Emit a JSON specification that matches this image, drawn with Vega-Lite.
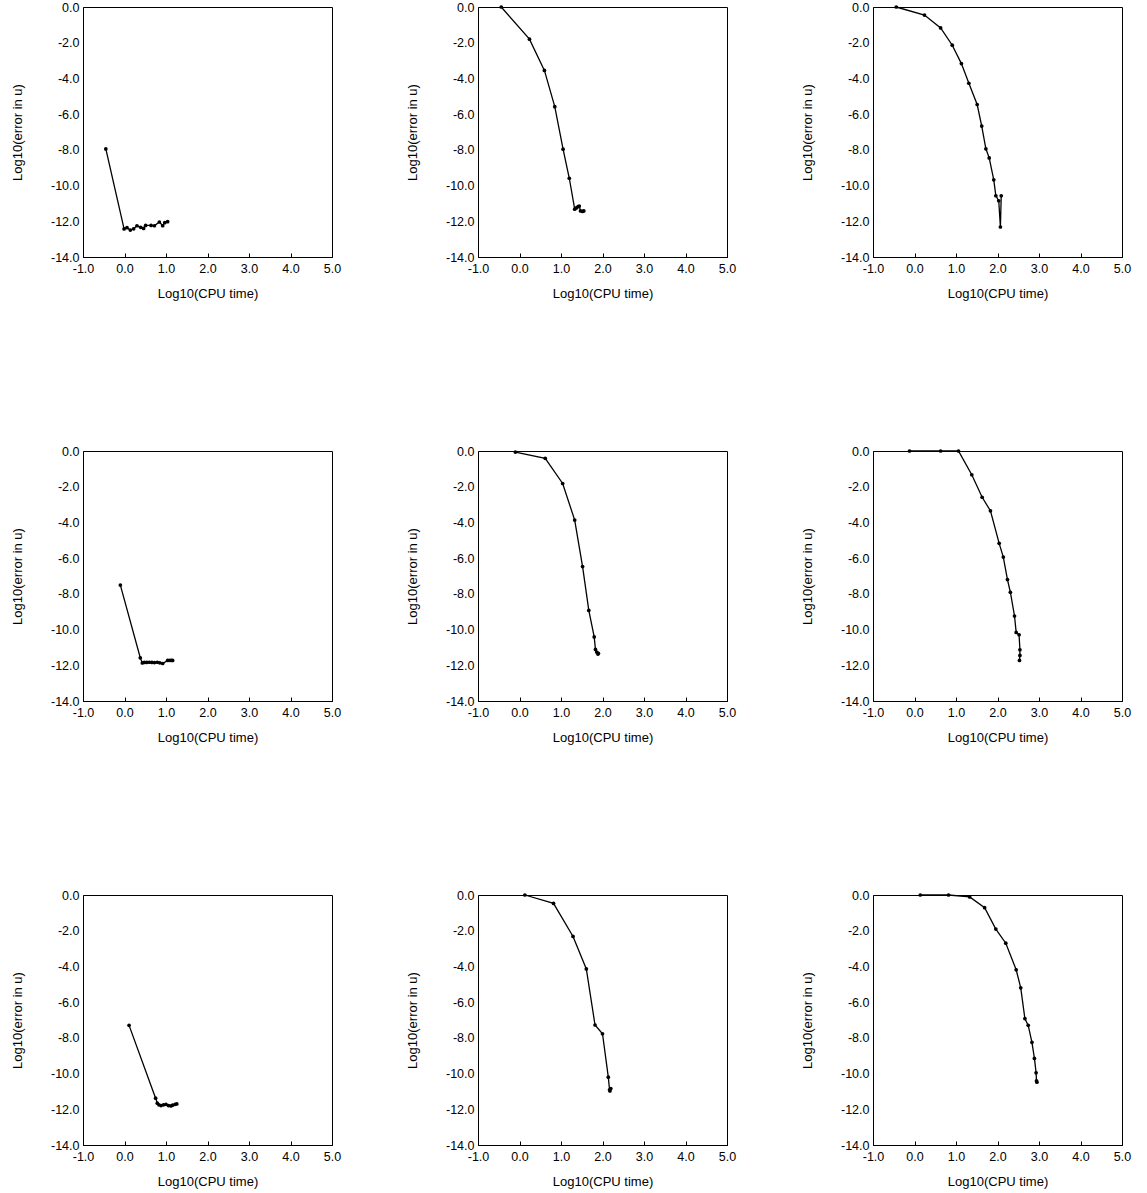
{
  "$schema": "https://vega.github.io/schema/vega-lite/v6.json",
  "padding": {"left": 11, "top": 0, "right": 5, "bottom": 5},
  "background": "white",
  "datasets": {
    "grid": [
      {"panel": 1, "r": 1, "c": 1}, {"panel": 2, "r": 1, "c": 2}, {"panel": 3, "r": 1, "c": 3},
      {"panel": 4, "r": 2, "c": 1}, {"panel": 5, "r": 2, "c": 2}, {"panel": 6, "r": 2, "c": 3},
      {"panel": 7, "r": 3, "c": 1}, {"panel": 8, "r": 3, "c": 2}, {"panel": 9, "r": 3, "c": 3}
    ],
    "pts": [
    {"panel": 1, "i": 0, "x": -0.45, "y": -7.95},
    {"panel": 1, "i": 1, "x": -0.01, "y": -12.43},
    {"panel": 1, "i": 2, "x": 0.06, "y": -12.36},
    {"panel": 1, "i": 3, "x": 0.14, "y": -12.49},
    {"panel": 1, "i": 4, "x": 0.22, "y": -12.42},
    {"panel": 1, "i": 5, "x": 0.30, "y": -12.25},
    {"panel": 1, "i": 6, "x": 0.39, "y": -12.34},
    {"panel": 1, "i": 7, "x": 0.46, "y": -12.40},
    {"panel": 1, "i": 8, "x": 0.51, "y": -12.23},
    {"panel": 1, "i": 9, "x": 0.64, "y": -12.23},
    {"panel": 1, "i": 10, "x": 0.72, "y": -12.25},
    {"panel": 1, "i": 11, "x": 0.84, "y": -12.04},
    {"panel": 1, "i": 12, "x": 0.92, "y": -12.25},
    {"panel": 1, "i": 13, "x": 0.97, "y": -12.08},
    {"panel": 1, "i": 14, "x": 1.04, "y": -12.02},

    {"panel": 2, "i": 0, "x": -0.44, "y": 0.0},
    {"panel": 2, "i": 1, "x": 0.24, "y": -1.80},
    {"panel": 2, "i": 2, "x": 0.60, "y": -3.55},
    {"panel": 2, "i": 3, "x": 0.85, "y": -5.58},
    {"panel": 2, "i": 4, "x": 1.05, "y": -7.96},
    {"panel": 2, "i": 5, "x": 1.20, "y": -9.59},
    {"panel": 2, "i": 6, "x": 1.33, "y": -11.32},
    {"panel": 2, "i": 7, "x": 1.37, "y": -11.25},
    {"panel": 2, "i": 8, "x": 1.41, "y": -11.18},
    {"panel": 2, "i": 9, "x": 1.44, "y": -11.15},
    {"panel": 2, "i": 10, "x": 1.47, "y": -11.42},
    {"panel": 2, "i": 11, "x": 1.52, "y": -11.45},
    {"panel": 2, "i": 12, "x": 1.55, "y": -11.42},

    {"panel": 3, "i": 0, "x": -0.44, "y": 0.0},
    {"panel": 3, "i": 1, "x": 0.24, "y": -0.45},
    {"panel": 3, "i": 2, "x": 0.63, "y": -1.17},
    {"panel": 3, "i": 3, "x": 0.91, "y": -2.14},
    {"panel": 3, "i": 4, "x": 1.13, "y": -3.17},
    {"panel": 3, "i": 5, "x": 1.31, "y": -4.27},
    {"panel": 3, "i": 6, "x": 1.51, "y": -5.46},
    {"panel": 3, "i": 7, "x": 1.62, "y": -6.67},
    {"panel": 3, "i": 8, "x": 1.72, "y": -7.94},
    {"panel": 3, "i": 9, "x": 1.80, "y": -8.45},
    {"panel": 3, "i": 10, "x": 1.91, "y": -9.68},
    {"panel": 3, "i": 11, "x": 1.96, "y": -10.57},
    {"panel": 3, "i": 12, "x": 2.03, "y": -10.85},
    {"panel": 3, "i": 13, "x": 2.07, "y": -12.32},
    {"panel": 3, "i": 14, "x": 2.09, "y": -10.57},

    {"panel": 4, "i": 0, "x": -0.10, "y": -7.51},
    {"panel": 4, "i": 1, "x": 0.38, "y": -11.58},
    {"panel": 4, "i": 2, "x": 0.43, "y": -11.87},
    {"panel": 4, "i": 3, "x": 0.48, "y": -11.84},
    {"panel": 4, "i": 4, "x": 0.54, "y": -11.84},
    {"panel": 4, "i": 5, "x": 0.60, "y": -11.83},
    {"panel": 4, "i": 6, "x": 0.66, "y": -11.84},
    {"panel": 4, "i": 7, "x": 0.72, "y": -11.85},
    {"panel": 4, "i": 8, "x": 0.79, "y": -11.83},
    {"panel": 4, "i": 9, "x": 0.85, "y": -11.86},
    {"panel": 4, "i": 10, "x": 0.92, "y": -11.90},
    {"panel": 4, "i": 11, "x": 1.04, "y": -11.73},
    {"panel": 4, "i": 12, "x": 1.09, "y": -11.72},
    {"panel": 4, "i": 13, "x": 1.13, "y": -11.73},
    {"panel": 4, "i": 14, "x": 1.16, "y": -11.73},

    {"panel": 5, "i": 0, "x": -0.10, "y": -0.06},
    {"panel": 5, "i": 1, "x": 0.62, "y": -0.41},
    {"panel": 5, "i": 2, "x": 1.04, "y": -1.82},
    {"panel": 5, "i": 3, "x": 1.33, "y": -3.87},
    {"panel": 5, "i": 4, "x": 1.52, "y": -6.47},
    {"panel": 5, "i": 5, "x": 1.67, "y": -8.93},
    {"panel": 5, "i": 6, "x": 1.80, "y": -10.41},
    {"panel": 5, "i": 7, "x": 1.83, "y": -11.11},
    {"panel": 5, "i": 8, "x": 1.86, "y": -11.26},
    {"panel": 5, "i": 9, "x": 1.89, "y": -11.37},
    {"panel": 5, "i": 10, "x": 1.90, "y": -11.33},

    {"panel": 6, "i": 0, "x": -0.12, "y": 0.0},
    {"panel": 6, "i": 1, "x": 0.63, "y": 0.0},
    {"panel": 6, "i": 2, "x": 1.06, "y": 0.0},
    {"panel": 6, "i": 3, "x": 1.38, "y": -1.33},
    {"panel": 6, "i": 4, "x": 1.63, "y": -2.59},
    {"panel": 6, "i": 5, "x": 1.83, "y": -3.35},
    {"panel": 6, "i": 6, "x": 2.04, "y": -5.17},
    {"panel": 6, "i": 7, "x": 2.14, "y": -5.94},
    {"panel": 6, "i": 8, "x": 2.24, "y": -7.20},
    {"panel": 6, "i": 9, "x": 2.31, "y": -7.91},
    {"panel": 6, "i": 10, "x": 2.41, "y": -9.24},
    {"panel": 6, "i": 11, "x": 2.45, "y": -10.16},
    {"panel": 6, "i": 12, "x": 2.52, "y": -10.29},
    {"panel": 6, "i": 13, "x": 2.54, "y": -11.13},
    {"panel": 6, "i": 14, "x": 2.54, "y": -11.45},
    {"panel": 6, "i": 15, "x": 2.53, "y": -11.73},

    {"panel": 7, "i": 0, "x": 0.11, "y": -7.30},
    {"panel": 7, "i": 1, "x": 0.75, "y": -11.38},
    {"panel": 7, "i": 2, "x": 0.79, "y": -11.66},
    {"panel": 7, "i": 3, "x": 0.83, "y": -11.75},
    {"panel": 7, "i": 4, "x": 0.88, "y": -11.79},
    {"panel": 7, "i": 5, "x": 0.94, "y": -11.75},
    {"panel": 7, "i": 6, "x": 1.00, "y": -11.72},
    {"panel": 7, "i": 7, "x": 1.06, "y": -11.79},
    {"panel": 7, "i": 8, "x": 1.12, "y": -11.81},
    {"panel": 7, "i": 9, "x": 1.16, "y": -11.77},
    {"panel": 7, "i": 10, "x": 1.22, "y": -11.72},
    {"panel": 7, "i": 11, "x": 1.26, "y": -11.70},

    {"panel": 8, "i": 0, "x": 0.13, "y": 0.0},
    {"panel": 8, "i": 1, "x": 0.82, "y": -0.47},
    {"panel": 8, "i": 2, "x": 1.29, "y": -2.32},
    {"panel": 8, "i": 3, "x": 1.61, "y": -4.14},
    {"panel": 8, "i": 4, "x": 1.82, "y": -7.28},
    {"panel": 8, "i": 5, "x": 2.00, "y": -7.77},
    {"panel": 8, "i": 6, "x": 2.14, "y": -10.20},
    {"panel": 8, "i": 7, "x": 2.17, "y": -10.91},
    {"panel": 8, "i": 8, "x": 2.18, "y": -10.97},
    {"panel": 8, "i": 9, "x": 2.20, "y": -10.84},

    {"panel": 9, "i": 0, "x": 0.14, "y": 0.0},
    {"panel": 9, "i": 1, "x": 0.82, "y": 0.0},
    {"panel": 9, "i": 2, "x": 1.33, "y": -0.11},
    {"panel": 9, "i": 3, "x": 1.69, "y": -0.71},
    {"panel": 9, "i": 4, "x": 1.96, "y": -1.91},
    {"panel": 9, "i": 5, "x": 2.20, "y": -2.70},
    {"panel": 9, "i": 6, "x": 2.45, "y": -4.19},
    {"panel": 9, "i": 7, "x": 2.56, "y": -5.20},
    {"panel": 9, "i": 8, "x": 2.66, "y": -6.92},
    {"panel": 9, "i": 9, "x": 2.74, "y": -7.30},
    {"panel": 9, "i": 10, "x": 2.83, "y": -8.25},
    {"panel": 9, "i": 11, "x": 2.89, "y": -9.15},
    {"panel": 9, "i": 12, "x": 2.93, "y": -9.96},
    {"panel": 9, "i": 13, "x": 2.94, "y": -10.41},
    {"panel": 9, "i": 14, "x": 2.95, "y": -10.48}
    ]
  },
  "data": {"name": "pts"},
  "transform": [
    {"lookup": "panel", "from": {"data": {"name": "grid"}, "key": "panel", "fields": ["r", "c"]}}
  ],
  "facet": {
    "row": {"field": "r", "type": "ordinal", "title": null, "header": {"labels": false, "title": null, "labelPadding": 0, "titlePadding": 0}},
    "column": {"field": "c", "type": "ordinal", "title": null, "header": {"labels": false, "title": null, "labelPadding": 0, "titlePadding": 0}}
  },
  "spacing": {"row": 194, "column": 146},
  "bounds": "flush",
  "resolve": {"axis": {"x": "independent", "y": "independent"}},
  "spec": {
    "width": 249,
    "height": 250,
    "encoding": {
      "x": {
        "field": "x", "type": "quantitative",
        "scale": {"domain": [-1, 5], "nice": false, "zero": false},
        "axis": {
          "title": "Log10(CPU time)",
          "values": [-1, 0, 1, 2, 3, 4, 5],
          "labelExpr": "(datum.value < 0 ? '-' : '') + format(abs(datum.value), '.1f')",
          "tickSize": -4,
          "labelPadding": 9,
          "titlePadding": 13,
          "labelFlush": false,
          "labelOverlap": false
        }
      },
      "y": {
        "field": "y", "type": "quantitative",
        "scale": {"domain": [-14, 0], "nice": false, "zero": false},
        "axis": {
          "title": "Log10(error in u)",
          "values": [0, -2, -4, -6, -8, -10, -12, -14],
          "labelExpr": "(datum.value < 0 ? '-' : '') + format(abs(datum.value), '.1f')",
          "ticks": false,
          "labelPadding": 4,
          "titlePadding": 26,
          "labelFlush": false,
          "labelOverlap": false
        }
      }
    },
    "layer": [
      {
        "mark": {"type": "line", "color": "black", "strokeWidth": 1.3},
        "encoding": {"order": {"field": "i", "type": "quantitative"}}
      },
      {
        "mark": {"type": "point", "filled": true, "color": "black", "size": 14, "opacity": 1}
      }
    ]
  },
  "config": {
    "font": "Liberation Sans",
    "view": {"stroke": "black", "strokeWidth": 1},
    "axis": {
      "grid": false,
      "domainColor": "black",
      "domainWidth": 1,
      "tickColor": "black",
      "tickWidth": 1,
      "labelColor": "black",
      "titleColor": "black",
      "labelFont": "Liberation Sans",
      "titleFont": "Liberation Sans",
      "labelFontSize": 12.5,
      "titleFontSize": 13,
      "titleFontWeight": "normal"
    }
  }
}
